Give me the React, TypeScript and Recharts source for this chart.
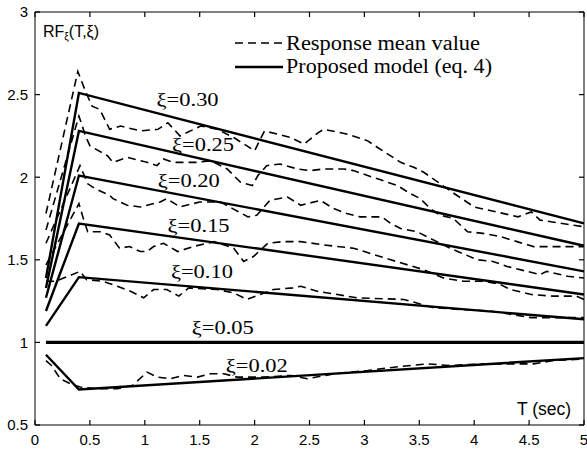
import React from 'react';
import { LineChart, Line, XAxis, YAxis, ReferenceDot } from 'recharts';

type Pt = [number, number];

const xTicks = [0, 0.5, 1, 1.5, 2, 2.5, 3, 3.5, 4, 4.5, 5];
const yTicks = [0.5, 1, 1.5, 2, 2.5, 3];

// response mean values, [T, RF]
const mean030: Pt[] = [
  [0.1, 1.78], [0.39, 2.64], [0.46, 2.52], [0.52, 2.43], [0.59, 2.41], [0.68, 2.29], [0.78, 2.31],
  [0.96, 2.28], [1.12, 2.29], [1.21, 2.33], [1.32, 2.25], [1.51, 2.31], [1.66, 2.29], [1.81, 2.24],
  [2.0, 2.16], [2.09, 2.28], [2.33, 2.24], [2.45, 2.2], [2.58, 2.27], [2.63, 2.29], [2.85, 2.26],
  [3.03, 2.22], [3.12, 2.18], [3.33, 2.09], [3.45, 2.06], [3.54, 2.03], [3.67, 1.97], [3.82, 1.9],
  [4.0, 1.82], [4.4, 1.76], [4.52, 1.79], [4.6, 1.74], [5.0, 1.7],
];
const mean025: Pt[] = [
  [0.1, 1.68], [0.4, 2.37], [0.46, 2.25], [0.5, 2.19], [0.66, 2.13], [0.71, 2.09], [0.84, 2.12],
  [1.02, 2.09], [1.11, 2.07], [1.17, 2.11], [1.26, 2.09], [1.48, 2.09], [1.6, 2.1], [1.75, 2.05],
  [1.87, 1.97], [1.98, 1.95], [2.03, 2.01], [2.11, 2.07], [2.23, 2.08], [2.39, 2.05], [2.51, 2.04],
  [2.63, 2.05], [2.81, 2.05], [2.9, 2.04], [3.12, 1.99], [3.3, 1.95], [3.42, 1.9], [3.51, 1.87],
  [3.6, 1.81], [3.69, 1.77], [3.81, 1.75], [3.94, 1.67], [4.08, 1.66], [4.24, 1.64], [4.39, 1.61],
  [4.54, 1.58], [4.76, 1.58], [5.0, 1.58],
];
const mean020: Pt[] = [
  [0.1, 1.6], [0.41, 2.07], [0.48, 1.96], [0.55, 1.93], [0.68, 1.89], [0.71, 1.87], [0.84, 1.83],
  [0.96, 1.82], [1.14, 1.85], [1.2, 1.87], [1.32, 1.82], [1.5, 1.85], [1.69, 1.85], [1.8, 1.81],
  [1.94, 1.76], [2.02, 1.77], [2.14, 1.86], [2.3, 1.88], [2.42, 1.83], [2.6, 1.86], [2.72, 1.81],
  [2.84, 1.78], [2.96, 1.76], [3.16, 1.76], [3.24, 1.72], [3.33, 1.69], [3.48, 1.67], [3.57, 1.64],
  [3.66, 1.61], [3.78, 1.57], [4.03, 1.5], [4.17, 1.49], [4.3, 1.46], [4.48, 1.43], [4.6, 1.41],
  [4.66, 1.43], [4.85, 1.4], [5.0, 1.39],
];
const mean015: Pt[] = [
  [0.1, 1.47], [0.4, 1.84], [0.44, 1.75], [0.48, 1.67], [0.6, 1.67], [0.68, 1.65], [0.77, 1.57],
  [0.86, 1.58], [0.96, 1.55], [1.02, 1.55], [1.08, 1.58], [1.17, 1.6], [1.3, 1.55], [1.44, 1.58],
  [1.63, 1.61], [1.81, 1.57], [1.9, 1.49], [1.99, 1.52], [2.12, 1.6], [2.26, 1.61], [2.42, 1.61],
  [2.63, 1.59], [2.9, 1.57], [3.0, 1.55], [3.24, 1.5], [3.54, 1.44], [3.72, 1.39], [3.9, 1.37],
  [4.1, 1.37], [4.24, 1.35], [4.33, 1.32], [4.52, 1.29], [4.72, 1.28], [4.93, 1.28], [5.0, 1.26],
];
const mean010: Pt[] = [
  [0.1, 1.37], [0.19, 1.37], [0.41, 1.43], [0.47, 1.38], [0.62, 1.37], [0.75, 1.34], [0.87, 1.31],
  [0.99, 1.27], [1.08, 1.32], [1.2, 1.32], [1.31, 1.28], [1.4, 1.33], [1.66, 1.32], [1.81, 1.3],
  [1.93, 1.26], [2.05, 1.29], [2.17, 1.32], [2.35, 1.33], [2.42, 1.34], [2.57, 1.31], [2.93, 1.27],
  [3.36, 1.26], [3.63, 1.21], [3.87, 1.2], [4.15, 1.19], [4.52, 1.15], [4.76, 1.15], [5.0, 1.15],
];
const mean002: Pt[] = [
  [0.1, 0.89], [0.15, 0.86], [0.23, 0.78], [0.32, 0.75], [0.41, 0.73], [0.56, 0.72], [0.75, 0.72],
  [0.89, 0.74], [1.02, 0.82], [1.11, 0.79], [1.23, 0.78], [1.35, 0.8], [1.48, 0.79], [1.6, 0.81],
  [1.72, 0.81], [1.84, 0.79], [2.08, 0.79], [2.33, 0.8], [2.48, 0.78], [2.72, 0.81], [3.03, 0.83],
  [3.27, 0.85], [3.57, 0.87], [3.78, 0.86], [4.08, 0.87], [4.3, 0.87], [4.54, 0.87], [4.72, 0.89],
  [5.0, 0.9],
];

// proposed model (eq. 4)
const model030: Pt[] = [[0.1, 1.39], [0.4, 2.51], [5, 1.72]];
const model025: Pt[] = [[0.1, 1.33], [0.4, 2.28], [5, 1.585]];
const model020: Pt[] = [[0.1, 1.27], [0.4, 2.01], [5, 1.43]];
const model015: Pt[] = [[0.1, 1.19], [0.4, 1.72], [5, 1.29]];
const model010: Pt[] = [[0.1, 1.1], [0.4, 1.395], [5, 1.14]];
const model005: Pt[] = [[0.1, 1], [5, 1]];
const model002: Pt[] = [[0.1, 0.925], [0.4, 0.715], [5, 0.905]];

const meanSeries = [mean030, mean025, mean020, mean015, mean010, mean002];
const modelSeries = [model030, model025, model020, model015, model010, model002];

const curveNames = ['ξ=0.30', 'ξ=0.25', 'ξ=0.20', 'ξ=0.15', 'ξ=0.10', 'ξ=0.05', 'ξ=0.02'];
const curveNameT = [1.39, 1.53, 1.4, 1.49, 1.52, 1.71, 2.02];
const curveNameRF = [2.47, 2.2, 1.98, 1.71, 1.43, 1.09, 0.86];

const toRows = (pts: Pt[]) => pts.map(([t, v]) => ({ t, v }));

const SANS = '"Liberation Sans", Arial, sans-serif';
const SERIF = '"Liberation Serif", "Times New Roman", serif';

const tickStyle = { fill: '#000', fontSize: 15, fontFamily: SANS };
const tickLineStyle = { stroke: '#000', strokeWidth: 1.2 };
const noLabel = () => <g />;

const CurveName = (text: string) => (p: any) => (
  <text
    x={p.cx}
    y={p.cy}
    dy="0.35em"
    textAnchor="middle"
    fontFamily={SERIF}
    fontSize={19}
    textLength={62}
    lengthAdjust="spacingAndGlyphs"
    fill="#000"
  >
    {text}
  </text>
);

export default function App() {
  return (
    <div style={{ position: 'absolute', left: 0, top: 0, width: 587, height: 454, background: '#fff' }}>
      <LineChart width={587} height={454} margin={{ top: 11, right: 2, bottom: 0, left: 0 }}>
        <XAxis
          xAxisId="b"
          dataKey="t"
          type="number"
          domain={[0, 5]}
          ticks={xTicks}
          interval={0}
          height={29}
          tick={tickStyle}
          tickSize={-5}
          tickMargin={14}
          axisLine={{ stroke: '#000' }}
          tickLine={tickLineStyle}
          allowDuplicatedCategory={false}
        />
        <XAxis
          xAxisId="top"
          orientation="top"
          dataKey="t"
          type="number"
          domain={[0, 5]}
          ticks={xTicks}
          interval={0}
          height={1}
          tick={noLabel}
          tickSize={-5}
          tickMargin={0}
          axisLine={{ stroke: '#000' }}
          tickLine={tickLineStyle}
        />
        <YAxis
          yAxisId="l"
          type="number"
          domain={[0.5, 3]}
          ticks={yTicks}
          interval={0}
          width={35}
          tick={tickStyle}
          tickSize={-5}
          tickMargin={12}
          axisLine={{ stroke: '#000' }}
          tickLine={tickLineStyle}
        />
        <YAxis
          yAxisId="r"
          orientation="right"
          type="number"
          domain={[0.5, 3]}
          ticks={yTicks}
          interval={0}
          width={1}
          tick={noLabel}
          tickSize={-5}
          tickMargin={0}
          axisLine={{ stroke: '#000' }}
          tickLine={tickLineStyle}
        />

        {meanSeries.map((pts, i) => (
          <Line
            key={'mean' + i}
            xAxisId="b"
            yAxisId="l"
            data={toRows(pts)}
            dataKey="v"
            type="linear"
            stroke="#000"
            strokeWidth={1.6}
            strokeDasharray="8 5"
            dot={false}
            activeDot={false}
            isAnimationActive={false}
          />
        ))}
        {modelSeries.map((pts, i) => (
          <Line
            key={'model' + i}
            xAxisId="b"
            yAxisId="l"
            data={toRows(pts)}
            dataKey="v"
            type="linear"
            stroke="#000"
            strokeWidth={2.4}
            dot={false}
            activeDot={false}
            isAnimationActive={false}
          />
        ))}
        <Line
          xAxisId="b"
          yAxisId="l"
          data={toRows(model005)}
          dataKey="v"
          type="linear"
          stroke="#000"
          strokeWidth={3.3}
          dot={false}
          activeDot={false}
          isAnimationActive={false}
        />
        {/* invisible series so the top/right frame axes get a scale */}
        <Line
          xAxisId="top"
          yAxisId="r"
          data={toRows(model005)}
          dataKey="v"
          stroke="none"
          dot={false}
          activeDot={false}
          legendType="none"
          isAnimationActive={false}
        />

        {curveNames.map((name, i) => (
          <ReferenceDot
            key={name}
            xAxisId="b"
            yAxisId="l"
            x={curveNameT[i]}
            y={curveNameRF[i]}
            r={1}
            shape={CurveName(name)}
          />
        ))}
      </LineChart>

      {/* legend and axis titles */}
      <svg width={587} height={454} style={{ position: 'absolute', left: 0, top: 0, pointerEvents: 'none' }}>
        <text x={43} y={37} fontFamily={SANS} fontSize={16} fill="#000">
          RF<tspan fontSize={10} dy={3}>ξ</tspan>
          <tspan dy={-3}>(T,ξ)</tspan>
        </text>
        <line x1={235} y1={43} x2={283} y2={43} stroke="#000" strokeWidth={1.6} strokeDasharray="8 5" />
        <text x={286} y={50} fontFamily={SERIF} fontSize={20} textLength={194} lengthAdjust="spacingAndGlyphs" fill="#000">
          Response mean value
        </text>
        <line x1={235} y1={67} x2={283} y2={67} stroke="#000" strokeWidth={2.4} />
        <text x={286} y={73} fontFamily={SERIF} fontSize={20} textLength={206} lengthAdjust="spacingAndGlyphs" fill="#000">
          Proposed model (eq. 4)
        </text>
        <text x={517} y={415} fontFamily={SANS} fontSize={17.5} fill="#000">
          T (sec)
        </text>
      </svg>
    </div>
  );
}
